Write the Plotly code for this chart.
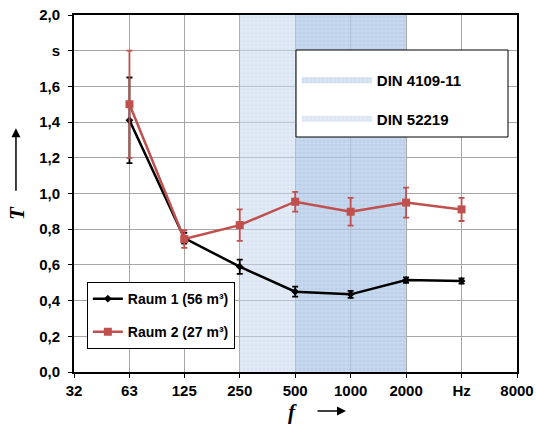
import plotly.graph_objects as go
import math

# Data
freqs = [63, 125, 250, 500, 1000, 2000, 4000]
tick_vals = [31.5, 63, 125, 250, 500, 1000, 2000, 4000, 8000]
tick_text = ["32", "63", "125", "250", "500", "1000", "2000", "Hz", "8000"]
raum1 = [1.41, 0.75, 0.59, 0.45, 0.435, 0.515, 0.51]
raum1_err = [0.24, 0.03, 0.04, 0.028, 0.02, 0.015, 0.015]
raum2 = [1.50, 0.745, 0.823, 0.954, 0.898, 0.949, 0.911]
raum2_err = [0.30, 0.05, 0.088, 0.055, 0.078, 0.084, 0.065]
y_tick_vals = [0, 0.2, 0.4, 0.6, 0.8, 1.0, 1.2, 1.4, 1.6, 1.8, 2.0]
y_tick_text = ["0,0", "0,2", "0,4", "0,6", "0,8", "1,0", "1,2", "1,4", "1,6", "s", "2,0"]
din52219_range = [250, 2000]
din4109_range = [500, 2000]

BOLD = dict(family="Liberation Sans, Arial", size=15, color="black", weight="bold")

fig = go.Figure()

fig.add_trace(go.Scatter(
    x=[din52219_range[0], din52219_range[1], din52219_range[1], din52219_range[0]],
    y=[0, 0, 2, 2], fill="toself", mode="none", name="DIN 52219",
    fillpattern=dict(shape="+", fgcolor="rgba(165,192,228,0.55)", bgcolor="rgba(205,220,240,0.55)",
                     size=4, solidity=0.3),
    legend="legend2", legendrank=2, legendgroup="b", hoverinfo="skip"))
fig.add_trace(go.Scatter(
    x=[din4109_range[0], din4109_range[1], din4109_range[1], din4109_range[0]],
    y=[0, 0, 2, 2], fill="toself", mode="none", name="DIN 4109-11",
    fillpattern=dict(shape="+", fgcolor="rgba(120,155,205,0.45)", bgcolor="rgba(165,192,228,0.4)",
                     size=4, solidity=0.3),
    legend="legend2", legendrank=1, legendgroup="a", hoverinfo="skip"))

fig.add_trace(go.Scatter(
    x=freqs, y=raum1, name="Raum 1 (56 m³)", mode="lines+markers",
    line=dict(color="black", width=2.5),
    marker=dict(symbol="diamond", size=6, color="black"),
    error_y=dict(type="data", array=raum1_err, color="black", thickness=1.8, width=3),
    legendgroup="r1"))
fig.add_trace(go.Scatter(
    x=freqs, y=raum2, name="Raum 2 (27 m³)", mode="lines+markers",
    line=dict(color="#c0504d", width=2.5),
    marker=dict(symbol="square", size=8, color="#c0504d"),
    error_y=dict(type="data", array=raum2_err, color="#c0504d", thickness=1.8, width=3),
    legendgroup="r2"))

fig.update_layout(
    width=536, height=427,
    margin=dict(l=74, r=19, t=15, b=55, autoexpand=False),
    paper_bgcolor="white", plot_bgcolor="white",
    showlegend=True,
    legend=dict(x=0.029, y=0.252, xanchor="left", yanchor="top",
                bgcolor="white", bordercolor="black", borderwidth=1,
                font=dict(family="Liberation Sans, Arial", size=14, color="black", weight="bold"),
                tracegroupgap=12, itemwidth=30),
    legend2=dict(x=0.503, y=0.863, xanchor="left", yanchor="top",
                 bgcolor="rgba(0,0,0,0)", borderwidth=0,
                 font=dict(family="Liberation Sans, Arial", size=15, color="black", weight="bold"),
                 tracegroupgap=16, itemwidth=70),
    xaxis=dict(type="log", range=[math.log10(31.5), math.log10(8000)],
               tickvals=tick_vals, ticktext=tick_text, tickfont=BOLD, automargin=False,
               showgrid=True, gridcolor="#a6a6a6", gridwidth=1,
               showline=True, linecolor="black", linewidth=2, mirror=True,
               ticks="outside", ticklen=4, tickcolor="black", zeroline=False),
    yaxis=dict(range=[0, 2.0], tickvals=y_tick_vals, ticktext=y_tick_text, tickfont=BOLD,
               automargin=False, ticklabelstandoff=5,
               showgrid=True, gridcolor="#a6a6a6", gridwidth=1,
               showline=True, linecolor="black", linewidth=2, mirror=True,
               ticks="outside", ticklen=4, tickcolor="black", zeroline=False),
)

# box behind the DIN legend
fig.add_shape(type="rect", xref="paper", yref="paper", layer="above",
              x0=(296 - 74) / 443, x1=(508 - 74) / 443,
              y0=(372 - 137) / 357, y1=(372 - 50) / 357,
              fillcolor="white", line=dict(color="black", width=1))

fig.add_annotation(xref="paper", yref="paper", x=-0.129, y=0.445, text="<b><i>T</i></b>",
                   showarrow=False, textangle=-90, xanchor="center", yanchor="middle",
                   font=dict(family="Liberation Serif, Times New Roman", size=21, color="black"))
fig.add_annotation(xref="paper", yref="paper", x=-0.131, y=0.683, ax=0, ay=64, text="",
                   showarrow=True, arrowhead=2, arrowsize=1.2, arrowwidth=1.5, arrowcolor="black")
fig.add_annotation(xref="paper", yref="paper", x=0.494, y=-0.112, text="<b><i>f</i></b>",
                   showarrow=False, xanchor="center", yanchor="middle",
                   font=dict(family="Liberation Serif, Times New Roman", size=21, color="black"))
fig.add_annotation(xref="paper", yref="paper", x=0.614, y=-0.109, ax=-30, ay=0, text="",
                   showarrow=True, arrowhead=2, arrowsize=1.2, arrowwidth=1.5, arrowcolor="black")

fig.write_html("out.html", config={"displayModeBar": False},
               post_script="document.body.style.margin='0';document.body.style.overflow='hidden';")
